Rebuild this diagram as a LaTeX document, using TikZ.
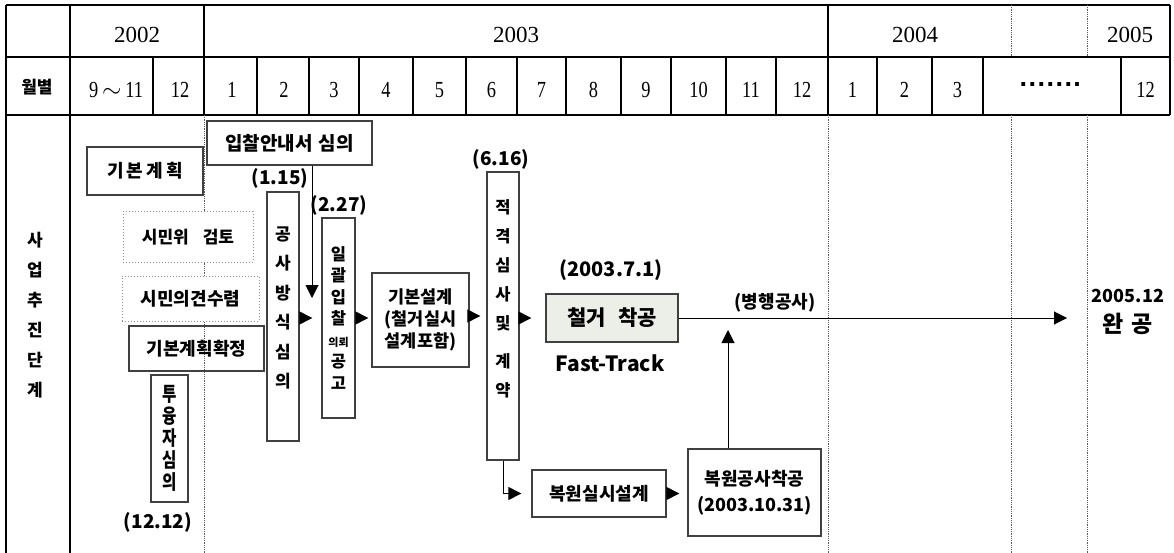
\documentclass[tikz,border=0pt]{standalone}
\usepackage{fontspec}
\setmainfont{Noto Sans CJK KR}
\newfontfamily\narrowkr[FakeStretch=0.78]{Noto Sans CJK KR}
\newfontfamily\yearfont{Liberation Serif}
\newfontfamily\monthfont[FakeStretch=0.8]{Liberation Serif}
\newfontfamily\latinfont{Liberation Sans}
\usetikzlibrary{arrows.meta}

\newcommand{\setfs}[2]{\fontsize{#1}{#2}\selectfont}
\definecolor{cgfill}{RGB}{236,238,232}

\tikzset{
  tblthick/.style={line width=2.6pt},
  tblmid/.style={line width=1.8pt},
  tblthin/.style={line width=1.3pt},
  tbldot/.style={line width=0.8pt, densely dotted, black!65},
  box/.style={draw=black!75, line width=1.3pt, fill=white, inner sep=0pt,
    align=center, font=\bfseries\setfs{18}{22}},
  dotbox/.style={box, draw=black!45, line width=1pt, dotted},
  vtxt/.style={inner sep=0pt, align=center, font=\bfseries\setfs{16.5}{29}},
  datelbl/.style={inner sep=0pt, font=\bfseries\setfs{19}{22}},
  yearlbl/.style={inner sep=0pt, font=\yearfont\setfs{23}{24}},
  monlbl/.style={inner sep=0pt, font=\monthfont\setfs{23}{24}},
  hdrlbl/.style={inner sep=0pt, font=\bfseries\setfs{17}{30}, align=center},
  arr/.style={-{Triangle[length=13pt,width=13pt]}, line width=1pt},
}

\begin{document}
\begin{tikzpicture}[x=1pt, y=-1pt]
\useasboundingbox (0,0) rectangle (1174,553);

% table lines
\draw[tblthick] (6,5) -- (1170,5);
\draw[tblmid] (6,57) -- (1170,57);
\draw[tblmid] (6,115) -- (1170,115);
\draw[tblthick] (6,5) -- (6,553);
\draw[tblthick] (70,5) -- (70,553);
\draw[tblmid] (1170,5) -- (1170,115);
\draw[tblthick] (828,5) -- (828,115);
\draw[tblthin] (204,5) -- (204,57);
\foreach \x in {1011,1087} \draw[tbldot] (\x,5) -- (\x,57);
\foreach \x in {153,204,257,309,359,413,466,517,566,621,671,726,776,877,932,983,1121}
  \draw[tblthin] (\x,57) -- (\x,115);
\foreach \x in {204,828,1011,1087} \draw[tbldot] (\x,115) -- (\x,553);

% header
\node[yearlbl] (y2002) at (137,35) {2002};
\node[yearlbl] (y2003) at (516,35) {2003};
\node[yearlbl] (y2004) at (915,35) {2004};
\node[yearlbl] (y2005) at (1130,35) {2005};
\node[hdrlbl] (wolbyeol) at (37,87) {월별};
\foreach \x/\m [count=\i] in {116/{9\,$\sim$\,11},180/12,232/1,284/2,334/3,386/4,
    439.5/5,491.5/6,541.5/7,593.5/8,646/9,698.5/10,751/11,802/12,852.5/1,904.5/2,
    957.5/3,1145.5/12}
  \node[monlbl] (mon\i) at (\x,90) {\m};
\node[inner sep=0pt, font=\latinfont\bfseries\setfs{27}{28}] (mdots) at (1051,88) {·······};
\node[hdrlbl] (saeop) at (35,315) {사\\업\\추\\진\\단\\계};

% planning stage
\node[box, minimum width=116, minimum height=48] (gbgh) at (145,171) {기\,본\,계\,획};
\node[dotbox, minimum width=130, minimum height=50, font=\bfseries\setfs{17}{20}]
  (simin) at (188,237) {시민위\hspace{14pt}검토};
\node[dotbox, minimum width=137, minimum height=45] (uigyeon) at (190.5,298.5) {시민의견수렴};
\node[box, fill=none, minimum width=135, minimum height=45] (hwakjeong) at (196.5,348.5) {기본계획확정};
\node[box, minimum width=37, minimum height=127, font=\narrowkr\bfseries\setfs{20}{22}]
  (tuyung) at (169.5,438.5) {투\\융\\자\\심\\의};
\node[datelbl] (d1212) at (158,522) {(12.12)};

% bidding stage
\node[box, minimum width=165, minimum height=44, font=\bfseries\setfs{19}{22}]
  (ipchal) at (289.5,143) {입찰안내서\hspace{6pt}심의};
\node[datelbl] (d115) at (280,178) {(1.15)};
\node[box, minimum width=32, minimum height=249] (gsbs) at (283,316.5) {};
\node[vtxt, font=\bfseries\setfs{17}{29.5}] (gsbs-t) at (283,308) {공\\사\\방\\식\\심\\의};
\node[datelbl] (d227) at (339,205) {(2.27)};
\node[box, minimum width=33, minimum height=200, font=\bfseries\setfs{16.5}{21.5}]
  (ilgwal) at (338.5,318) {일\\괄\\입\\찰\\{\setfs{11}{12}의뢰}\\공\\고};
\node[box, minimum width=97, minimum height=94, font=\bfseries\setfs{17.5}{22}]
  (gbsg) at (420.5,320) {기본설계\\(철거실시\\설계포함)};
\node[datelbl] (d616) at (501,159) {(6.16)};
\node[box, minimum width=32, minimum height=288] (jg) at (503,316) {};
\node[vtxt] (jg-t) at (503,298.5) {적\\격\\심\\사\\및\\[9pt]계\\약};

% construction stage
\node[datelbl, font=\bfseries\setfs{20}{22}] (d0371) at (611,270) {(2003.7.1)};
\node[box, fill=cgfill, minimum width=132, minimum height=48, font=\bfseries\setfs{21}{24}]
  (cg) at (612,318) {철거\hspace{12pt}착공};
\node[inner sep=0pt, font=\bfseries\setfs{21}{24}] (fast) at (610,363) {Fast-Track};
\node[datelbl, font=\bfseries\setfs{18}{22}] (byeong) at (775,303) {(병행공사)};
\node[box, minimum width=134, minimum height=47] (bwsg) at (599,493.5) {복원실시설계};
\node[box, minimum width=133, minimum height=87, font=\bfseries\setfs{18}{26}]
  (bwgs) at (754.5,492.5) {복원공사착공\\(2003.10.31)};
\node[inner sep=0pt, align=center, font=\bfseries\setfs{18}{30}] (wg) at (1128,312)
  {2005.12\\{\setfs{23}{26}완\hspace{8pt}공}};

% connectors
\coordinate (ipchal-end) at (312,298);
\draw[arr] (ipchal.south -| ipchal-end) -- (ipchal-end);
\draw[arr, shorten >=9pt] (gsbs.east |- ilgwal.center) -- (ilgwal.west);
\draw[arr, shorten >=3pt] (ilgwal.east) -- (gbsg.west |- ilgwal.east);
\draw[arr, shorten >=6pt] (gbsg.east |- jg.center) -- (jg.west);
\draw[arr, shorten >=14pt] (jg.east |- cg.center) -- (cg.west);
\coordinate (par-end) at (1067,318);
\draw[arr] (cg.east) -- (par-end);
\draw[arr, shorten >=10pt] (jg.south) |- (bwsg.west);
\draw[arr, shorten >=8pt] (bwsg.east) -- (bwgs.west |- bwsg.east);
\coordinate (bw-end) at (728,330);
\draw[arr] (bwgs.north -| bw-end) -- (bw-end);

\end{tikzpicture}
\end{document}
